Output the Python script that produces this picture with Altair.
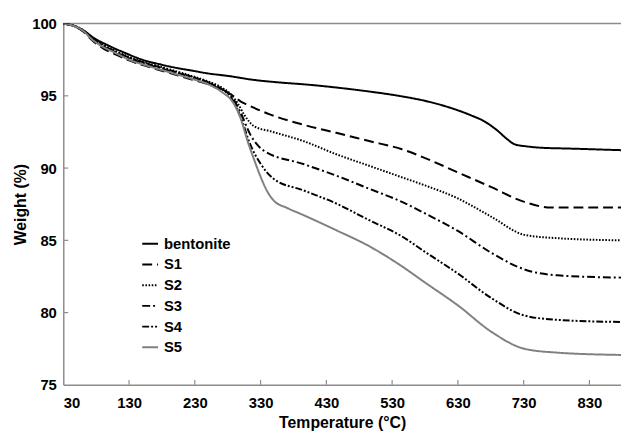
import altair as alt
import pandas as pd

# --- data (temperature °C, weight %) ---
series_names = ["bentonite", "S1", "S2", "S3", "S4", "S5"]

bent_T = [30, 45, 60, 75, 100, 125, 150, 175, 200, 225, 250, 280, 320, 360, 400, 450, 495, 540, 585, 620, 650, 670, 690, 705, 716, 735, 756, 800, 878]
bent_W = [100, 99.85, 99.55, 99.05, 98.45, 97.95, 97.5, 97.2, 96.95, 96.75, 96.55, 96.38, 96.1, 95.92, 95.78, 95.55, 95.3, 95.0, 94.6, 94.15, 93.65, 93.24, 92.6, 92.0, 91.65, 91.5, 91.41, 91.35, 91.24]

s1_T = [30, 45, 60, 75, 90, 110, 130, 160, 190, 220, 250, 270, 290, 300, 310, 345, 395, 445, 495, 545, 585, 630, 681, 731, 771, 878]
s1_W = [100, 99.85, 99.45, 98.8, 98.3, 97.85, 97.45, 97.0, 96.6, 96.2, 95.8, 95.45, 94.95, 94.6, 94.38, 93.7, 93.0, 92.44, 91.87, 91.3, 90.6, 89.7, 88.68, 87.66, 87.27, 87.27]

s2_T = [30, 45, 60, 75, 90, 110, 130, 160, 190, 220, 250, 270, 285, 295, 305, 320, 345, 395, 445, 495, 545, 580, 630, 681, 731, 781, 878]
s2_W = [100, 99.88, 99.55, 99.0, 98.55, 98.1, 97.7, 97.25, 96.85, 96.45, 96.0, 95.6, 95.1, 94.5, 93.7, 92.9, 92.55, 91.87, 90.96, 90.16, 89.36, 88.8, 87.9, 86.63, 85.38, 85.15, 85.0]

s3_T = [30, 45, 60, 75, 90, 110, 130, 160, 190, 220, 250, 270, 285, 300, 314, 335, 395, 445, 495, 545, 580, 630, 681, 731, 781, 878]
s3_W = [100, 99.85, 99.5, 98.9, 98.45, 98.0, 97.6, 97.15, 96.75, 96.35, 95.9, 95.5, 95.0, 93.8, 92.35, 91.2, 90.28, 89.48, 88.57, 87.66, 86.86, 85.65, 84.13, 82.99, 82.58, 82.42]

s4_T = [30, 45, 60, 75, 90, 110, 130, 160, 190, 220, 250, 270, 285, 300, 314, 330, 350, 395, 445, 495, 545, 580, 630, 681, 731, 781, 878]
s4_W = [100, 99.85, 99.5, 98.95, 98.5, 98.05, 97.65, 97.2, 96.8, 96.4, 95.95, 95.5, 94.9, 93.5, 91.67, 90.3, 89.25, 88.46, 87.55, 86.4, 85.27, 84.2, 82.7, 81.0, 79.8, 79.5, 79.35]

s5_T = [30, 45, 60, 75, 90, 110, 130, 160, 190, 220, 250, 270, 290, 300, 310, 320, 330, 340, 350, 370, 395, 445, 495, 545, 580, 630, 681, 731, 781, 878]
s5_W = [100, 99.85, 99.5, 98.85, 98.4, 97.95, 97.5, 97.05, 96.65, 96.25, 95.8, 95.3, 94.4, 93.4, 91.9, 90.6, 89.4, 88.4, 87.75, 87.25, 86.75, 85.7, 84.6, 83.2, 82.08, 80.5, 78.67, 77.5, 77.23, 77.07]

x_ticks = [30, 130, 230, 330, 430, 530, 630, 730, 830]
y_ticks = [75, 80, 85, 90, 95, 100]

colors = ["#000000", "#000000", "#000000", "#000000", "#000000", "#808080"]
dashes = [[1, 0], [10, 5], [1.6, 1.6], [8, 3, 2, 3], [7, 2, 2, 2, 2, 2], [1, 0]]
widths = [2.0, 2.0, 1.6, 1.8, 1.8, 1.6]

rows = []
for name, ts, ws in zip(series_names,
                        [bent_T, s1_T, s2_T, s3_T, s4_T, s5_T],
                        [bent_W, s1_W, s2_W, s3_W, s4_W, s5_W]):
    for t, w in zip(ts, ws):
        rows.append({"series": name, "T": t, "W": w})
df = pd.DataFrame(rows)

FONT = "Liberation Sans"
GRAY = "#8c8c8c"
W_PX, H_PX = 565, 366

xscale = alt.Scale(domain=[30, 878], nice=False, zero=False)
yscale = alt.Scale(domain=[75, 100], nice=False, zero=False)

legend = alt.Legend(
    title=None, orient="none", legendX=79, legendY=214, direction="vertical",
    symbolType="stroke", symbolSize=256, labelFont=FONT, labelFontSize=15,
    labelFontWeight="bold", labelColor="#000000", labelOffset=5, rowPadding=4,
)

lines = alt.Chart(df).mark_line(clip=True, interpolate="monotone").encode(
    x=alt.X("T:Q", scale=xscale,
            axis=alt.Axis(values=x_ticks, title="Temperature (°C)", ticks=False, tickSize=0,
                          grid=False, labelPadding=11, titlePadding=4,
                          domainColor=GRAY, domainWidth=1.5)),
    y=alt.Y("W:Q", scale=yscale,
            axis=alt.Axis(values=y_ticks, title="Weight (%)", ticks=False, tickSize=0,
                          grid=False, labelPadding=7, titlePadding=3,
                          domainColor=GRAY, domainWidth=1.5)),
    color=alt.Color("series:N", scale=alt.Scale(domain=series_names, range=colors), legend=legend),
    strokeDash=alt.StrokeDash("series:N", scale=alt.Scale(domain=series_names, range=dashes), legend=legend),
    strokeWidth=alt.StrokeWidth("series:N", scale=alt.Scale(domain=series_names, range=widths), legend=legend),
)

top_border = alt.Chart(pd.DataFrame({"a": [0]})).mark_rule(color=GRAY, strokeWidth=1.5).encode(
    x=alt.datum(30, scale=xscale), x2=alt.datum(878), y=alt.datum(100, scale=yscale)
)

xt = alt.Chart(pd.DataFrame({"t": x_ticks[1:]})).mark_rule(color=GRAY, strokeWidth=1.2).encode(
    x=alt.X("t:Q", scale=xscale), y=alt.value(H_PX), y2=alt.value(H_PX - 5)
)
yt = alt.Chart(pd.DataFrame({"w": y_ticks[1:-1]})).mark_rule(color=GRAY, strokeWidth=1.2).encode(
    y=alt.Y("w:Q", scale=yscale), x=alt.value(0), x2=alt.value(5)
)

chart = alt.layer(top_border, xt, yt, lines).properties(
    width=W_PX, height=H_PX,
    autosize=alt.AutoSizeParams(type="none"),
    padding={"left": 56, "top": 13, "right": 0, "bottom": 46},
).configure_view(stroke="transparent").configure_axis(
    labelFont=FONT, labelFontSize=15, labelFontWeight="bold", labelColor="#000000",
    titleFont=FONT, titleFontSize=16, titleFontWeight="bold", titleColor="#000000",
)

chart.save("out.html", embed_options={"renderer": "svg", "actions": False})
